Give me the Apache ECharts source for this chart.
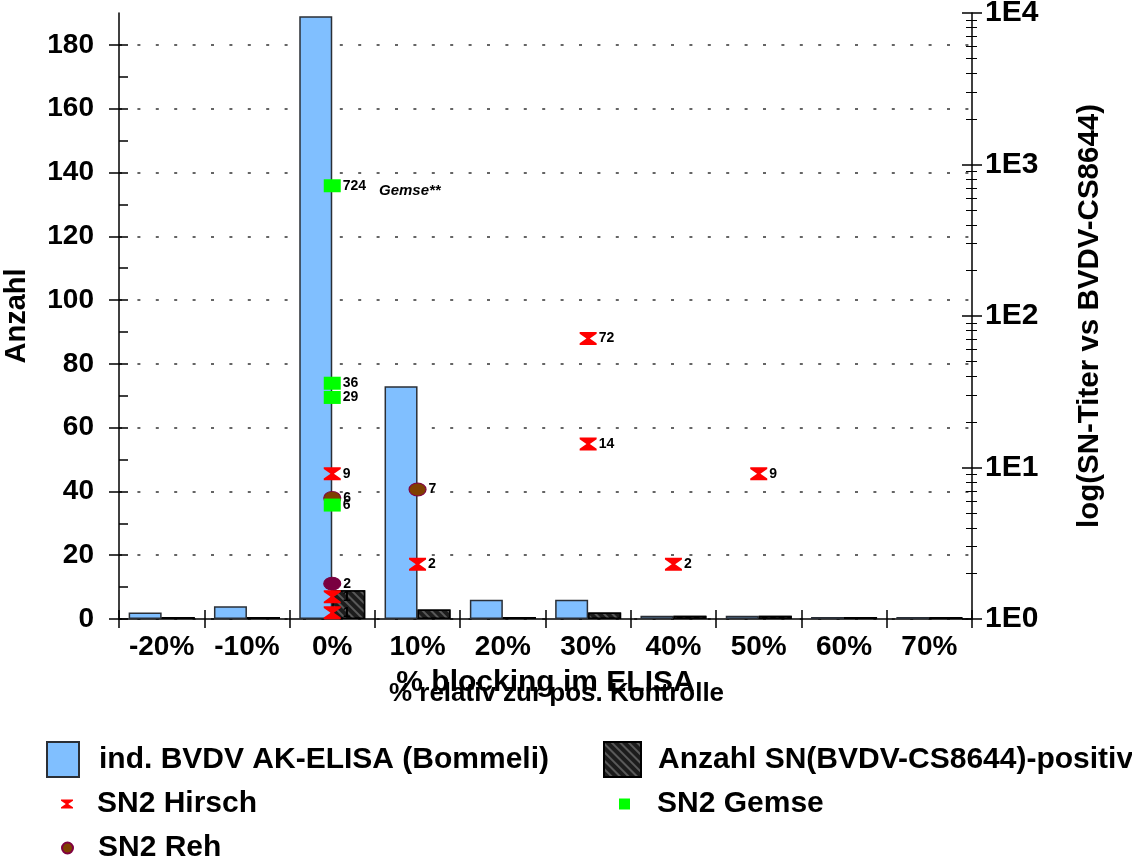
<!DOCTYPE html>
<html>
<head>
<meta charset="utf-8">
<script src="https://cdn.jsdelivr.net/npm/echarts@6/dist/echarts.min.js"></script>
<style>
html,body{margin:0;padding:0;background:#fff;}
#chart{width:1132px;height:859px;}
</style>
</head>
<body>
<div id="chart"></div>
<script>
// ---- data ----
const categories = ['-20%', '-10%', '0%', '10%', '20%', '30%', '40%', '50%', '60%', '70%'];
const elisaCounts = [2, 4, 189, 73, 6, 6, 1, 1, 0, 0];
const snPositiveCounts = [0, 0, 9, 3, 0, 2, 1, 1, 0, 0];

const hirschX = ['0%', '0%', '0%', '10%', '30%', '30%', '40%', '50%'];
const hirschY = [9.1, 1.4, 1.1, 2.3, 71, 14.3, 2.3, 9.1];
const hirschLabels = ['9', '1', '1', '2', '72', '14', '2', '9'];

const gemseX = ['0%', '0%', '0%', '0%'];
const gemseY = [724, 36, 29, 5.65];
const gemseLabels = ['724', '36', '29', '6'];

const rehX = ['0%', '10%', '0%'];
const rehY = [6.3, 7.16, 1.71];
const rehLabels = ['6', '7', '2'];

const leftTicks = [0, 20, 40, 60, 80, 100, 120, 140, 160, 180];
const leftMinorTicks = [0, 10, 20, 30, 40, 50, 60, 70, 80, 90, 100, 110, 120, 130, 140, 150, 160, 170, 180];
const rightTicks = [1, 10, 100, 1000, 10000];
const rightTickLabels = ['1E0', '1E1', '1E2', '1E3', '1E4'];
const rightMinorTicks = [2, 3, 4, 5, 6, 7, 8, 9, 20, 30, 40, 50, 60, 70, 80, 90,
  200, 300, 400, 500, 600, 700, 800, 900, 2000, 3000, 4000, 5000, 6000, 7000, 8000, 9000];

const seriesNames = ['ind. BVDV AK-ELISA (Bommeli)', 'Anzahl SN(BVDV-CS8644)-positiv', 'SN2 Hirsch', 'SN2 Gemse', 'SN2 Reh'];
// ---- end data ----

const FONT = "'Liberation Sans', Arial, Helvetica, sans-serif";
const hourglass = 'path://M0,0 L20,0 L20,2 L12,7.5 L20,13 L20,15 L0,15 L0,13 L8,7.5 L0,2 Z';
const rehSpecialIndex = 2;

function pts(xs, ys, labels) {
  return xs.map((x, i) => ({ value: [x, ys[i]], labelText: labels[i] }));
}

const chart = echarts.init(document.getElementById('chart'), null, { renderer: 'canvas' });

const labelStyle = {
  show: true, position: 'right', distance: 2,
  fontFamily: FONT, fontWeight: 'bold', fontSize: 14, color: '#000',
  formatter: p => p.data.labelText
};

const rehData = pts(rehX, rehY, rehLabels).map((d, i) => i === rehSpecialIndex
  ? Object.assign(d, { itemStyle: { color: '#7a0040', borderColor: '#7a0040' } }) : d);

function legendCfg(name, left, top, w, h, pad, icon) {
  return {
    show: true, left: left, top: top, padding: 0, orient: 'horizontal',
    itemWidth: w, itemHeight: h, selectedMode: false,
    data: [icon ? { name: name, icon: icon } : { name: name }],
    textStyle: { fontFamily: FONT, fontWeight: 'bold', fontSize: 30, lineHeight: 32, color: '#000', padding: [0, 0, 0, pad] }
  };
}

const axisLineStyle = { color: '#000', width: 1.5 };

const option = {
  animation: false,
  backgroundColor: '#fff',
  grid: { left: 119, right: 160, top: 13, bottom: 240, containLabel: false, outerBoundsMode: 'none' },
  legend: [
    legendCfg(seriesNames[0], 46, 741, 32, 35, 15, 'rect'),
    legendCfg(seriesNames[1], 603, 741, 37, 35, 12, 'rect'),
    legendCfg(seriesNames[2], 61, 788, 12, 11, 19, hourglass),
    legendCfg(seriesNames[3], 619, 788, 11, 11, 22, 'rect'),
    legendCfg(seriesNames[4], 61, 832, 11, 12, 20, 'circle')
  ],
  xAxis: [
    {
      type: 'category', data: categories, position: 'bottom', boundaryGap: true,
      axisLine: { show: true, lineStyle: axisLineStyle },
      axisTick: { show: true, inside: false, length: 9, alignWithLabel: false, lineStyle: axisLineStyle },
      axisLabel: { show: true, margin: 14, fontFamily: FONT, fontWeight: 'bold', fontSize: 28, color: '#000' },
      splitLine: { show: false },
      name: '% blocking im ELISA', nameLocation: 'middle', nameGap: 49,
      nameTextStyle: { fontFamily: FONT, fontWeight: 'bold', fontSize: 30, color: '#000' }
    },
    {
      type: 'category', data: categories, position: 'bottom', boundaryGap: true,
      axisLine: { show: false },
      axisTick: { show: true, inside: true, length: 9, alignWithLabel: false, lineStyle: axisLineStyle },
      axisLabel: { show: false },
      splitLine: { show: false },
      name: '% relativ zur pos. Kontrolle', nameLocation: 'middle', nameGap: 62,
      nameTextStyle: { fontFamily: FONT, fontWeight: 'bold', fontSize: 26, color: '#000', padding: [0, 0, 0, 22] }
    }
  ],
  yAxis: [
    {
      type: 'value', position: 'left', min: 0, max: 190,
      axisLine: { show: true, lineStyle: axisLineStyle },
      axisTick: { show: true, inside: false, length: 10, customValues: leftTicks, lineStyle: axisLineStyle },
      axisLabel: { show: true, customValues: leftTicks, margin: 25, fontFamily: FONT, fontWeight: 'bold', fontSize: 28, color: '#000' },
      splitLine: { show: true, lineStyle: { color: '#333', width: 1.5, type: [3, 15.4] } },
      name: 'Anzahl', nameLocation: 'middle', nameGap: 88,
      nameTextStyle: { fontFamily: FONT, fontWeight: 'bold', fontSize: 29, color: '#000' }
    },
    {
      type: 'log', logBase: 10, position: 'right', min: 1, max: 10000,
      axisLine: { show: true, lineStyle: axisLineStyle },
      axisTick: { show: true, inside: false, length: 10, customValues: rightTicks, lineStyle: axisLineStyle },
      axisLabel: {
        show: true, customValues: rightTicks, margin: 13, fontFamily: FONT, fontWeight: 'bold', fontSize: 30, color: '#000',
        formatter: v => rightTickLabels[Math.round(Math.log10(v))]
      },
      splitLine: { show: false },
      name: 'log(SN-Titer vs BVDV-CS8644)', nameLocation: 'middle', nameGap: 103,
      nameTextStyle: { fontFamily: FONT, fontWeight: 'bold', fontSize: 29.5, color: '#000' }
    },
    {
      type: 'log', logBase: 10, position: 'right', min: 1, max: 10000,
      axisLine: { show: false },
      axisTick: { show: true, inside: true, length: 10, customValues: rightTicks, lineStyle: axisLineStyle },
      axisLabel: { show: false }, splitLine: { show: false }
    },
    {
      type: 'log', logBase: 10, position: 'right', min: 1, max: 10000,
      axisLine: { show: false },
      axisTick: { show: true, inside: true, length: 6, customValues: rightMinorTicks, lineStyle: { color: '#000', width: 1 } },
      axisLabel: { show: false }, splitLine: { show: false }
    },
    {
      type: 'log', logBase: 10, position: 'right', min: 1, max: 10000,
      axisLine: { show: false },
      axisTick: { show: true, inside: false, length: 5, customValues: rightMinorTicks, lineStyle: { color: '#000', width: 1 } },
      axisLabel: { show: false }, splitLine: { show: false }
    },
    {
      type: 'value', position: 'left', min: 0, max: 190,
      axisLine: { show: false },
      axisTick: { show: true, inside: true, length: 9, customValues: leftMinorTicks, lineStyle: axisLineStyle },
      axisLabel: { show: false }, splitLine: { show: false }
    }
  ],
  graphic: [
    { type: 'text', left: 379, top: 183, z: 100,
      style: { text: 'Gemse**', font: "italic bold 15px 'Liberation Sans', Arial, sans-serif", fill: '#000' } }
  ],
  series: [
    {
      name: seriesNames[0], type: 'bar', xAxisIndex: 0, yAxisIndex: 0,
      data: elisaCounts, barWidth: 33, barGap: '0%', barMinHeight: 2,
      itemStyle: { color: '#80bfff', borderColor: '#2a2f36', borderWidth: 1.5 }
    },
    {
      name: seriesNames[1], type: 'bar', xAxisIndex: 0, yAxisIndex: 0,
      data: snPositiveCounts, barWidth: 33, barGap: '0%', barMinHeight: 2,
      itemStyle: {
        color: '#1c1c1c', borderColor: '#000', borderWidth: 1.5,
        decal: { symbol: 'rect', color: 'rgba(110,110,110,0.75)', dashArrayX: [1, 0], dashArrayY: [1.5, 3.5], rotation: Math.PI / 4 }
      }
    },
    {
      name: seriesNames[4], type: 'scatter', xAxisIndex: 0, yAxisIndex: 1, z: 3,
      symbol: 'circle', symbolSize: [17, 13],
      itemStyle: { color: '#7f3f00', borderColor: '#800040', borderWidth: 1, opacity: 1 },
      label: labelStyle,
      data: rehData
    },
    {
      name: seriesNames[2], type: 'scatter', xAxisIndex: 0, yAxisIndex: 1, z: 4,
      symbol: hourglass, symbolSize: [17, 13],
      itemStyle: { color: '#ff0000', opacity: 1 },
      label: labelStyle,
      data: pts(hirschX, hirschY, hirschLabels)
    },
    {
      name: seriesNames[3], type: 'scatter', xAxisIndex: 0, yAxisIndex: 1, z: 5,
      symbol: 'rect', symbolSize: [17, 13],
      itemStyle: { color: '#00ff00', opacity: 1 },
      label: labelStyle,
      data: pts(gemseX, gemseY, gemseLabels)
    }
  ]
};

chart.setOption(option);
</script>
</body>
</html>
